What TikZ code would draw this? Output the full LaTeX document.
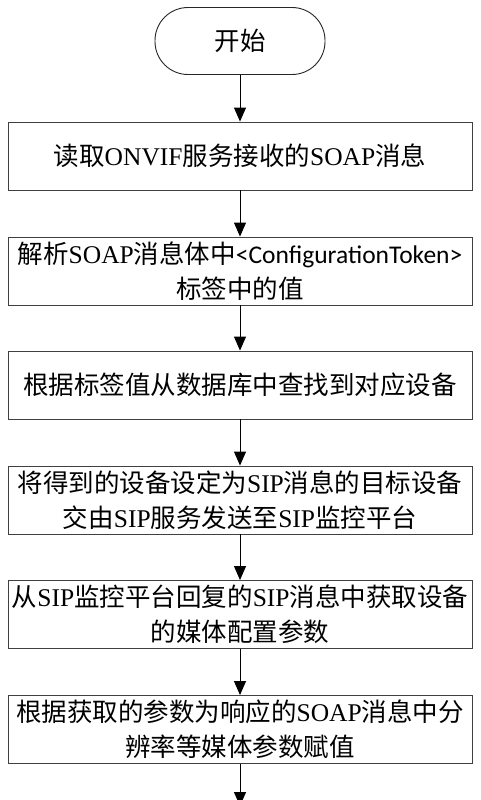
\documentclass[tikz,border=0pt]{standalone}
\usepackage{fontspec}
\setmainfont{Liberation Serif}
\newfontfamily\cjk{Noto Sans CJK SC}
\newfontfamily\calib{Carlito}
\usetikzlibrary{arrows.meta}
\newcommand\zh[1]{{\cjk #1}}
\begin{document}
\begin{tikzpicture}[x=1pt,y=-1pt,
  every node/.style={font=\fontsize{25.5}{35}\selectfont, text=black},
  procbox/.style={draw=black!75, line width=0.9pt, rectangle, minimum width=464pt, minimum height=68pt, align=center, inner sep=0pt},
  termbox/.style={draw=black!85, line width=0.9pt, rectangle, rounded corners=33pt, minimum width=170pt, minimum height=67pt, inner sep=0pt},
  flow/.style={draw=black, line width=1pt, -{Triangle[length=14pt,width=12pt]}}]
\useasboundingbox (0,0) rectangle (480,800);
\node[termbox] (start) at (240,41) {\zh{开始}};
\node[procbox] (b1) at (240,156) {\zh{读取}ONVIF\zh{服务接收的}SOAP\zh{消息}};
\node[procbox] (b2) at (240,271) {\zh{解析}SOAP\zh{消息体中}{\calib <ConfigurationToken>}\\\zh{标签中的值}};
\node[procbox] (b3) at (240,385) {\zh{根据标签值从数据库中查找到对应设备}};
\node[procbox] (b4) at (240,500) {\zh{将得到的设备设定为}SIP\zh{消息的目标设备}\\\zh{交由}SIP\zh{服务发送至}SIP\zh{监控平台}};
\node[procbox] (b5) at (240,614.5) {\zh{从}SIP\zh{监控平台回复的}SIP\zh{消息中获取设备}\\\zh{的媒体配置参数}};
\node[procbox] (b6) at (240,729.5) {\zh{根据获取的参数为响应的}SOAP\zh{消息中分}\\\zh{辨率等媒体参数赋值}};
\coordinate (end) at (240,806);
\draw[flow] (start) -- (b1);
\draw[flow] (b1) -- (b2);
\draw[flow] (b2) -- (b3);
\draw[flow] (b3) -- (b4);
\draw[flow] (b4) -- (b5);
\draw[flow] (b5) -- (b6);
\draw[flow] (b6) -- (end);
\end{tikzpicture}
\end{document}
